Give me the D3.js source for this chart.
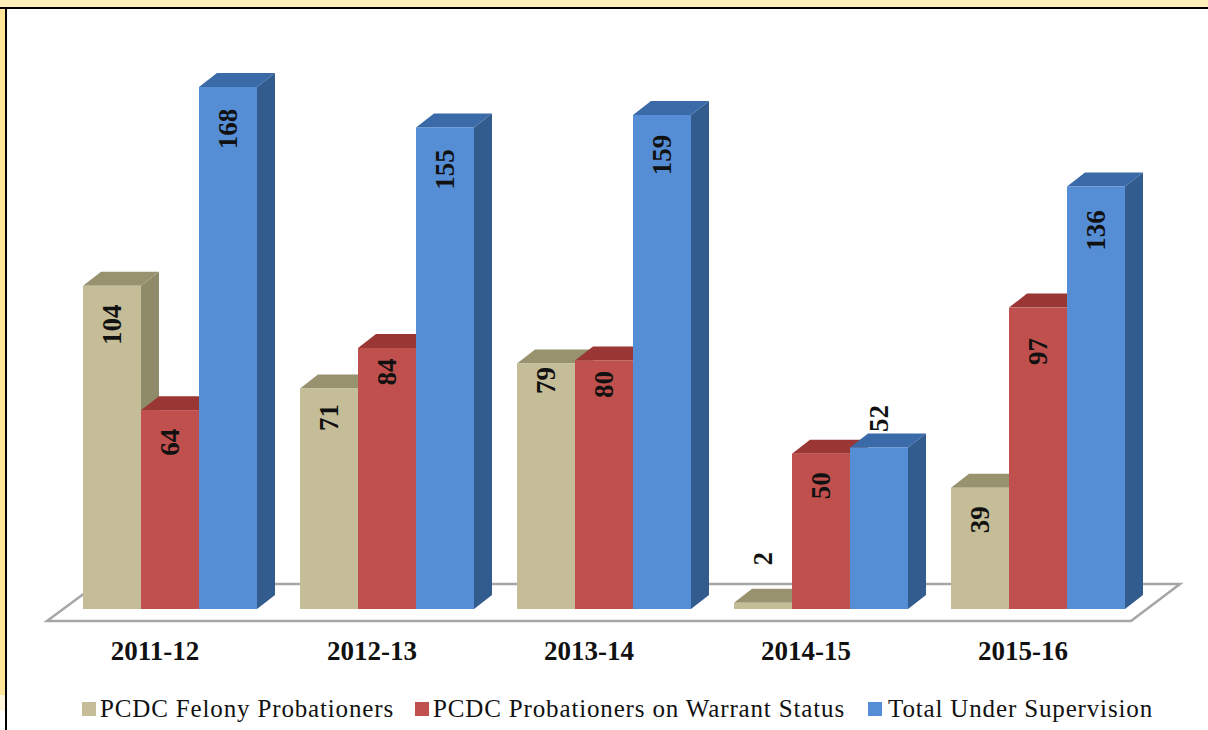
<!DOCTYPE html>
<html>
<head>
<meta charset="utf-8">
<script src="https://cdn.jsdelivr.net/npm/d3@7"></script>
<style>
  html, body { margin: 0; padding: 0; background: #fff; }
  svg { display: block; }
  text { font-family: "Liberation Serif", serif; fill: #111; }
</style>
</head>
<body>
<div id="chart"></div>
<script>
const years = ["2011-12", "2012-13", "2013-14", "2014-15", "2015-16"];
const seriesNames = ["PCDC Felony Probationers", "PCDC Probationers on Warrant Status", "Total Under Supervision"];
const felony = [104, 71, 79, 2, 39];
const warrant = [64, 84, 80, 50, 97];
const total = [168, 155, 159, 52, 136];

const width = 1208, height = 730;
const baseY = 609;
const depthX = 18, depthY = 14;

// front, top, side
const colors = [
    { front: "#C4BD97", top: "#98926F", side: "#8F8A68" },
    { front: "#C0504D", top: "#9A3634", side: "#8E302E" },
    { front: "#558ED5", top: "#3A6AA8", side: "#335C8E" }
];

const svg = d3.select("#chart").append("svg")
    .attr("width", width)
    .attr("height", height);

// yellow strip on top and left, black rule inside it, no box on the right
svg.append("rect").attr("width", width).attr("height", 8).attr("fill", "#FFEFB9");
svg.append("rect").attr("y", 8).attr("width", 6).attr("height", 687).attr("fill", "#FFE597");
svg.append("rect").attr("y", 695).attr("width", 6).attr("height", 16).attr("fill", "#FFF6DC");
svg.append("rect").attr("y", 7).attr("width", width).attr("height", 2).attr("fill", "#000");
svg.append("rect").attr("x", 5).attr("y", 7).attr("width", 2).attr("height", height).attr("fill", "#000");

const x0 = d3.scaleBand().domain(years).range([83, 1125]).paddingInner(43 / 217);
const x1 = d3.scaleBand().domain([0, 1, 2]).range([0, x0.bandwidth()]);
const y = d3.scaleLinear().domain([0, 168]).range([baseY, 87]);

// floor
svg.append("path")
    .attr("d", d3.line()([[47, 621], [1131, 621], [1180, 584], [97, 584]]) + "Z")
    .attr("fill", "#fff")
    .attr("stroke", "#A6A6A6")
    .attr("stroke-width", 2.5);

const rows = [felony, warrant, total];
const line = d3.line();

years.forEach((yr, i) => {
    const g = svg.append("g").attr("class", "group");
    rows.forEach((vals, s) => {
        const l = x0(yr) + x1(s);
        const r = l + x1.bandwidth();
        const t = y(vals[i]);
        g.append("path")
            .attr("d", line([[r, t], [r + depthX, t - depthY], [r + depthX, baseY - depthY], [r, baseY]]) + "Z")
            .attr("fill", colors[s].side);
        g.append("path")
            .attr("d", line([[l, t], [l + depthX, t - depthY], [r + depthX, t - depthY], [r, t]]) + "Z")
            .attr("fill", colors[s].top);
        g.append("rect")
            .attr("x", l).attr("y", t)
            .attr("width", x1.bandwidth()).attr("height", baseY - t)
            .attr("fill", colors[s].front);
    });
});

// label distance below bar top, same layout as rows
const labelOffset = [
    [39, 29, 17, -44, 32],
    [32, 24, 24, 32, 44],
    [42, 42, 40, -29, 44]
];

rows.forEach((vals, s) => {
    vals.forEach((v, i) => {
        const cx = x0(years[i]) + x1(s) + x1.bandwidth() / 2;
        const cy = y(v) + labelOffset[s][i];
        svg.append("text")
            .attr("transform", `translate(${cx},${cy}) rotate(-90)`)
            .attr("text-anchor", "middle")
            .attr("dy", "0.35em")
            .attr("font-size", 27)
            .attr("font-weight", "bold")
            .text(v);
    });
});

// category labels
const axis = svg.append("g")
    .attr("transform", "translate(0,641)")
    .call(d3.axisBottom(x0).tickSize(0).tickPadding(0));
axis.select(".domain").remove();
axis.selectAll("text")
    .attr("x", -15)
    .attr("y", 0)
    .attr("dy", "0.71em")
    .attr("font-size", 27)
    .attr("font-weight", "bold")
    .style("font-family", '"Liberation Serif", serif')
    .style("fill", "#111");

// legend
const legendX = [82, 415, 868];
const legendTextX = [100, 433, 888];
seriesNames.forEach((name, s) => {
    svg.append("rect")
        .attr("x", legendX[s]).attr("y", 702)
        .attr("width", 14).attr("height", 14)
        .attr("fill", colors[s].front);
    svg.append("text")
        .attr("x", legendTextX[s])
        .attr("y", 717)
        .attr("font-size", 25)
        .attr("letter-spacing", 0.85)
        .text(name);
});
</script>
</body>
</html>
